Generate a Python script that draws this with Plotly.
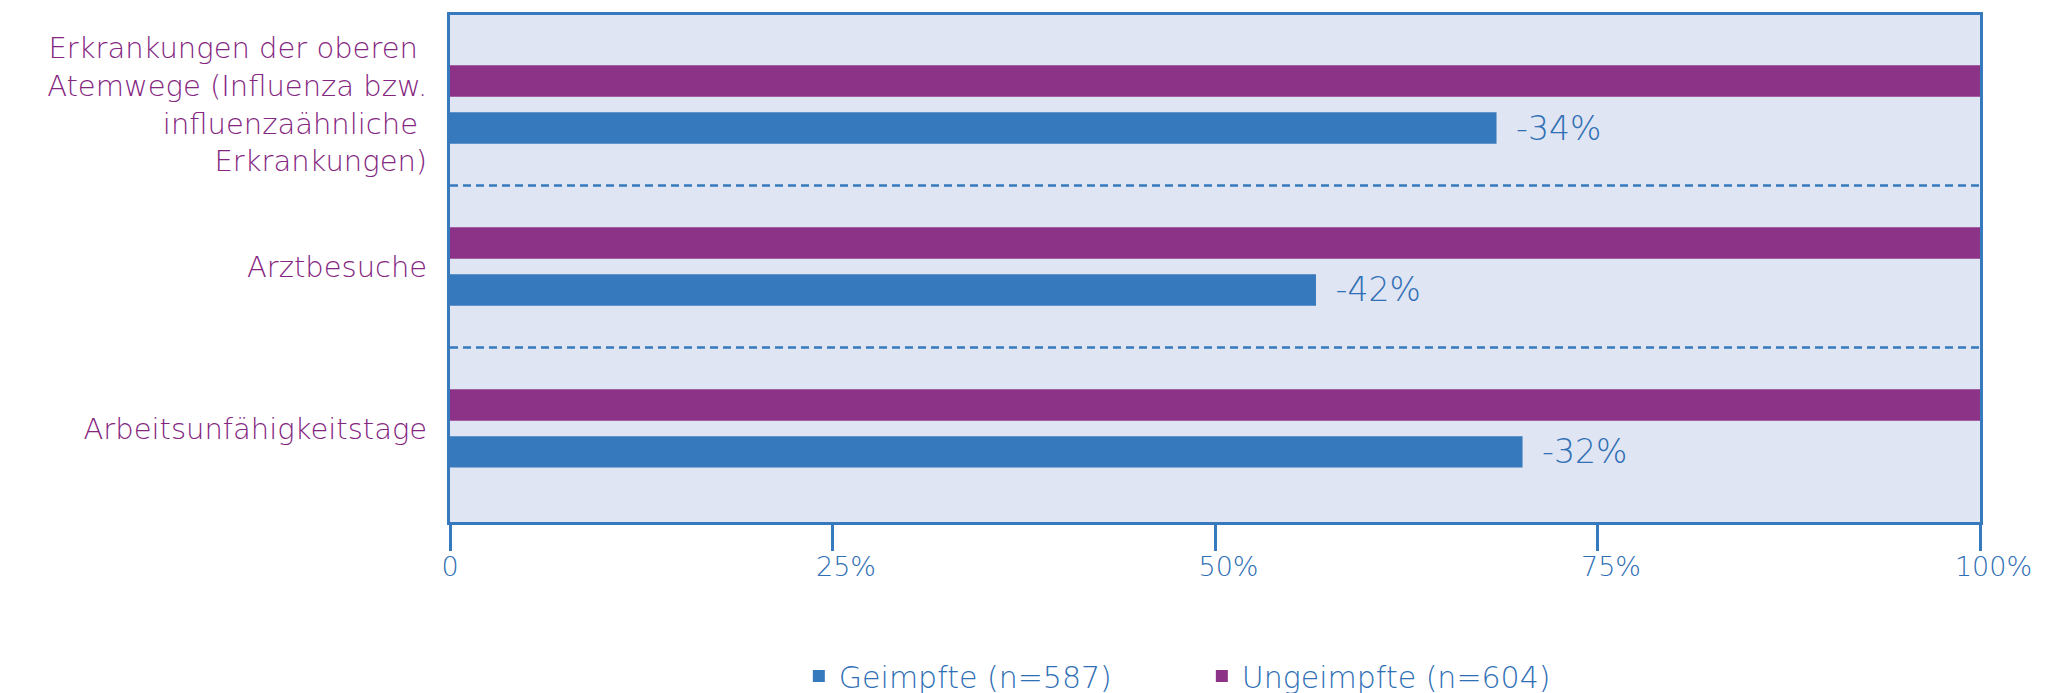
import plotly.graph_objects as go

# Data (bottom-to-top category order on the y axis)
categories = [
    "Arbeitsunfähigkeitstage",
    "Arztbesuche",
    "Erkrankungen der oberen <br>Atemwege (Influenza bzw.<br>influenzaähnliche <br>Erkrankungen)",
]
geimpfte = [70.1, 56.6, 68.4]
ungeimpfte = [100, 100, 100]
reduction_labels = ["-32%", "-42%", "-34%"]
x_tickvals = [0, 25, 50, 75, 100]
x_ticktext = ["0", "\u200325%", "\u200350%", "\u200375%", "\u2003100%"]

BLUE = "#3679BD"
LABEL_BLUE = "#2F6FB5"
PURPLE = "#8C3387"
LABEL_PURPLE = "#84267F"
BG = "#DFE5F2"
FONT = "DejaVu Sans"
W = 200

fig = go.Figure()
fig.add_trace(go.Bar(
    y=categories, x=geimpfte, orientation="h", name="Geimpfte (n=587)",
    marker=dict(color=BLUE, line=dict(width=0)),
    text=reduction_labels, texttemplate="\u2002%{text}", textposition="outside",
    constraintext="none",
    textfont=dict(color=LABEL_BLUE, size=33, family=FONT, weight=W),
    cliponaxis=False,
))
fig.add_trace(go.Bar(
    y=categories, x=ungeimpfte, orientation="h", name="Ungeimpfte (n=604)",
    marker=dict(color=PURPLE, line=dict(width=0)),
    textfont=dict(color=PURPLE, size=30, family=FONT, weight=W),
))

for b in [0.5, 1.5]:
    fig.add_shape(type="line", xref="paper", yref="y", x0=0, x1=1, y0=b, y1=b,
                  line=dict(color=BLUE, width=2.5, dash="8px,5px"), layer="below")

fig.update_layout(
    width=2056, height=693,
    margin=dict(l=442, r=84, t=4, b=179),
    paper_bgcolor="white", plot_bgcolor=BG,
    barmode="group", bargap=0.42, bargroupgap=0.33,
    font=dict(family=FONT, weight=W),
    showlegend=True,
    legend=dict(orientation="h", x=0.228, xanchor="left",
                yref="container", y=0.036, yanchor="middle",
                font=dict(size=30, color=LABEL_BLUE, family=FONT, weight=W),
                traceorder="normal", entrywidth=358),
)
fig.update_xaxes(
    range=[0, 100], tickvals=x_tickvals, ticktext=x_ticktext,
    showgrid=False, zeroline=False,
    showline=True, linecolor=BLUE, linewidth=3, mirror=True,
    ticks="outside", ticklen=26, tickwidth=3, tickcolor=BLUE,
    ticklabelstandoff=-7,
    tickfont=dict(size=27, color=LABEL_BLUE, family=FONT, weight=W),
)
fig.update_yaxes(
    range=[-0.578, 2.553], showgrid=False, zeroline=False,
    showline=True, linecolor=BLUE, linewidth=3, mirror=True,
    ticks="", ticklabelstandoff=14,
    tickfont=dict(size=29, color=LABEL_PURPLE, family=FONT, weight=W),
)

fig.write_html("out.html")
